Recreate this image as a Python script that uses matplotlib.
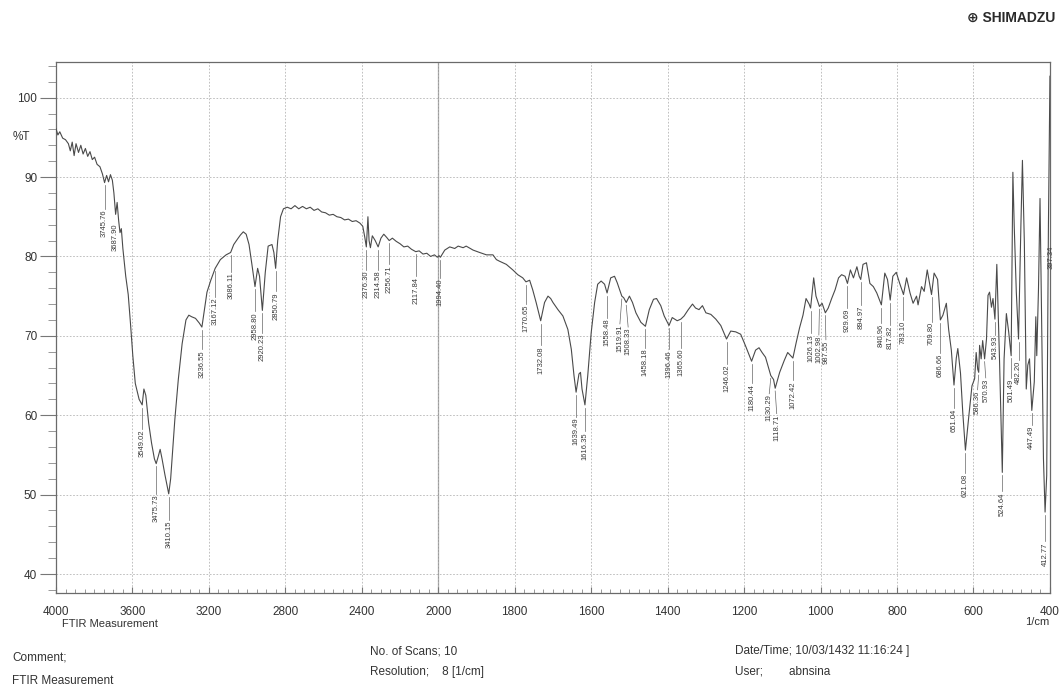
import numpy as np
import matplotlib.pyplot as plt

plt.rcParams['font.family'] = ['Liberation Sans', 'DejaVu Sans']

# FTIR spectrum, wavenumber (1/cm) vs %T
wavenumber = [
    4000, 3990, 3980, 3965, 3950, 3935, 3925, 3915, 3905, 3895, 3882, 3870, 3858,
    3846, 3834, 3822, 3810, 3798, 3785, 3770, 3757, 3745.76, 3735, 3725, 3715, 3705,
    3697, 3687.9, 3680, 3672, 3665, 3658, 3650, 3635, 3622, 3610, 3598, 3585, 3565,
    3549.02, 3540, 3530, 3515, 3500, 3485, 3475.73, 3465, 3455, 3445, 3430, 3410.15,
    3400, 3390, 3378, 3360, 3340, 3320, 3305, 3290, 3270, 3250, 3236.55, 3225, 3210,
    3190, 3167.12, 3140, 3110, 3086.11, 3070, 3050, 3035, 3020, 3005, 2990, 2975,
    2958.8, 2945, 2935, 2920.23, 2905, 2890, 2870, 2860, 2850.79, 2840, 2825, 2810,
    2790, 2770, 2750, 2730, 2710, 2690, 2670, 2650, 2630, 2610, 2590, 2570, 2550,
    2530, 2510, 2490, 2470, 2450, 2430, 2410, 2395, 2385, 2376.3, 2368, 2362, 2355,
    2345, 2330, 2314.58, 2300, 2285, 2270, 2256.71, 2240, 2220, 2200, 2180, 2160,
    2140, 2117.84, 2100, 2080, 2060, 2040, 2020, 2005, 1998, 1994.4, 1983, 1970,
    1957, 1948, 1935, 1927, 1909, 1892, 1874, 1857, 1848, 1840, 1822, 1805, 1792,
    1779, 1770.65, 1761, 1753, 1744, 1732.08, 1722, 1713, 1706, 1700, 1687, 1674,
    1661, 1652, 1645, 1639.49, 1632, 1628, 1624, 1616.35, 1609, 1600, 1591, 1583,
    1574, 1565, 1558.48, 1549, 1539, 1532, 1519.91, 1515, 1508.33, 1500, 1492, 1483,
    1470, 1458.18, 1448, 1437, 1429, 1418, 1409, 1396.46, 1388, 1375, 1365.6, 1357,
    1346, 1335, 1327, 1318, 1309, 1300, 1287, 1274, 1261, 1253, 1246.02, 1235, 1222,
    1209, 1196, 1180.44, 1170, 1161, 1153, 1144, 1130.29, 1123, 1118.71, 1107, 1095,
    1086, 1072.42, 1064, 1055, 1046, 1038, 1030, 1026.13, 1018, 1012, 1002.98, 996,
    987.55, 980, 971, 962, 953, 945, 936, 929.69, 922, 914, 905, 899, 894.97, 889,
    880, 871, 862, 853, 840.96, 832, 825, 817.82, 811, 802, 793, 783.1, 775, 766,
    758, 749, 745, 736, 729, 721, 709.8, 703, 694, 686.66, 680, 671, 665, 658,
    651.04, 645, 641, 634, 628, 621.08, 612, 604, 597, 593, 589, 586.36, 584, 580,
    576, 570.93, 566, 562, 558, 553, 549, 543.93, 539, 532, 524.64, 520, 514, 508,
    501.49, 497, 493.5, 488, 482.2, 476, 472, 467, 462, 458, 453.5, 447.49, 441,
    437, 434.5, 430, 426, 421.5, 417, 412.77, 408.5, 404, 400,
]
transmittance = [
    96.1, 95.3, 95.7, 94.9, 94.7, 94.2, 93.3, 94.4, 92.7, 94.2, 93.1, 94.0, 92.9,
    93.6, 92.6, 93.2, 92.2, 92.5, 91.6, 91.3, 90.4, 89.3, 90.2, 89.4, 90.3, 89.6,
    88.0, 85.3, 86.8, 84.5, 83.0, 83.5, 81.0, 77.5, 75.2, 71.5, 67.5, 64.0, 62.0,
    61.3, 63.3, 62.5, 59.0, 56.5, 54.5, 53.9, 54.8, 55.7, 54.5, 52.5, 50.1,
    52.0, 55.5, 59.5, 64.5, 69.0, 72.0, 72.6, 72.4, 72.2, 71.6, 71.1, 73.0, 75.5,
    77.0, 78.5, 79.6, 80.2, 80.5, 81.5, 82.2, 82.7, 83.1, 82.8, 81.5, 79.0,
    76.2, 78.5, 77.5, 73.2, 78.0, 81.3, 81.5, 80.5, 78.5, 82.0, 85.0, 86.0,
    86.2, 86.0, 86.4, 86.0, 86.3, 86.0, 86.2, 85.8, 86.0, 85.6, 85.5, 85.2, 85.3,
    85.0, 84.9, 84.6, 84.7, 84.4, 84.5, 84.2, 83.8, 82.5, 81.2, 85.0, 82.0, 81.1,
    82.6, 82.0, 81.2, 82.3, 82.8, 82.4, 82.0, 82.3, 81.9, 81.6, 81.2, 81.3,
    80.9, 80.6, 80.7, 80.3, 80.4, 80.0, 80.2, 79.9, 80.1, 79.9, 80.8, 81.2,
    81.0, 81.3, 81.1, 81.3, 80.8, 80.5, 80.2, 80.2, 79.6, 79.4, 79.0, 78.3, 77.7,
    77.3, 76.8, 77.0, 75.8, 74.2, 71.9, 74.2, 75.0, 74.7, 74.2, 73.3, 72.5,
    70.8, 68.3, 65.0, 62.9, 65.2, 65.4, 63.3, 61.3, 65.0, 70.4, 74.2, 76.5,
    76.9, 76.5, 75.4, 77.3, 77.5, 76.7, 75.0, 74.8, 74.2, 75.0, 74.2, 72.9,
    71.7, 71.2, 73.3, 74.6, 74.7, 73.8, 72.5, 71.3, 72.3, 71.9, 72.1, 72.5,
    73.3, 74.0, 73.5, 73.3, 73.8, 72.9, 72.7, 72.1, 71.3, 70.4, 69.6, 70.6, 70.5,
    70.2, 68.7, 66.8, 68.2, 68.5, 67.9, 67.3, 65.0, 64.5, 63.4, 65.4, 66.9,
    67.9, 67.2, 69.1, 71.0, 72.6, 74.7, 74.0, 73.5, 77.3, 75.0, 73.7, 74.1,
    72.9, 73.5, 74.7, 75.8, 77.3, 77.7, 77.5, 76.6, 78.3, 77.3, 78.7, 77.5, 77.1, 79.0,
    79.2, 76.6, 76.2, 75.4, 73.9, 77.9, 77.1, 74.5, 77.5, 78.0, 76.6, 75.2, 77.3, 75.4,
    74.1, 75.0, 73.9, 76.2, 75.6, 78.3, 75.2, 77.9, 77.1, 72.0, 72.6, 74.1, 70.8, 68.2,
    63.8, 67.2, 68.4, 65.3, 60.3, 55.6, 60.0, 63.7, 64.6, 67.9, 65.8, 65.4, 68.8, 67.1,
    69.4, 67.1, 69.6, 75.1, 75.5, 73.6, 74.7, 72.1, 79.0, 67.1, 52.8, 67.1, 72.8, 70.5,
    67.5, 90.6, 83.9, 75.5, 69.6, 83.9, 92.1, 81.8, 63.3, 66.3, 67.1, 60.6, 64.2,
    72.4, 67.5, 75.9, 87.3, 71.3, 54.5, 47.8, 52.4, 83.9, 102.7,
]

# labelled band positions, how far each label sits below the trace,
# and a sideways nudge (1/cm) for labels that would touch a neighbour
peak_wn = [
    3745.76, 3687.90, 3549.02, 3475.73, 3410.15, 3236.55, 3167.12, 3086.11,
    2958.80, 2920.23, 2850.79, 2376.30, 2314.58, 2256.71, 2117.84, 1994.40,
    1770.65, 1732.08, 1639.49, 1616.35, 1558.48, 1519.91, 1508.33, 1458.18,
    1396.46, 1365.60, 1246.02, 1180.44, 1130.29, 1118.71, 1072.42, 1026.13,
    1002.98, 987.55, 929.69, 894.97, 840.96, 817.82, 783.10, 709.80, 686.66,
    651.04, 621.08, 586.36, 570.93, 543.93, 524.64, 501.49, 482.20, 447.49,
    412.77, 397.34,
]
label_gap = [
    3.1, 0.8, 2.8, 3.6, 3.1, 2.6, 3.4, 2.2,
    2.9, 2.6, 2.7, 2.7, 2.7, 2.8, 2.9, 2.4,
    2.6, 2.9, 2.9, 3.1, 2.9, 3.3, 2.9, 2.5,
    2.8, 3.4, 2.9, 2.6, 2.1, 3.0, 2.6, 3.0,
    3.4, 3.2, 2.9, 3.0, 2.1, 2.9, 3.0, 3.2, 4.0,
    2.7, 2.7, 2.0, 2.2, 1.8, 2.2, 2.6, 2.4, 1.6,
    3.5, 21.0,
]
label_shift = [
    0, 0, 0, 0, 0, 0, 0, 0,
    0, 0, 0, 0, 0, 0, 0, 0,
    0, 0, 0, 0, 0, 5, -5, 0,
    0, 0, 0, 0, 4, -4, 0, 0,
    1.5, -1.5, 0, 0, 0, 0, 0, 0, 0,
    0, 0, 3, -3, 0, 0, 0, 0, 0,
    0, 0,
]

x_major = [4000, 3600, 3200, 2800, 2400, 2000, 1800, 1600, 1400, 1200, 1000, 800, 600, 400]
y_major = [40, 50, 60, 70, 80, 90, 100]

wn = np.array(wavenumber)
tr = np.array(transmittance)


# the region below 2000 1/cm is drawn at twice the scale
def fwd(x):
    x = np.asarray(x, dtype=float)
    return np.where(x > 2000, 2000 + (x - 2000) / 2, x)


def inv(y):
    y = np.asarray(y, dtype=float)
    return np.where(y > 2000, 2000 + (y - 2000) * 2, y)


fig = plt.figure(figsize=(10.64, 6.88), dpi=100)
ax = fig.add_axes([0.0526, 0.138, 0.9342, 0.772])
ax.set_xscale('function', functions=(fwd, inv))
ax.set_xlim(4000, 400)
ax.set_ylim(37.6, 104.5)

ax.plot(wn, tr, color='#4a4a4a', lw=0.8, zorder=3)

# peak labels with short leader lines
peak_t = np.interp(peak_wn, wn[::-1], tr[::-1])
for w, t, g, s in zip(peak_wn, peak_t, label_gap, label_shift):
    top = t - g
    if g > 0.9:
        ax.plot([w, w + s], [t - 0.35, top - 0.2], color='#666666', lw=0.5, zorder=2)
    ax.text(w + s, top - 0.3, f'{w:.2f}', rotation=90, ha='center', va='top',
            fontsize=5.5, color='#3a3a3a', clip_on=False)

# axes, ticks, grid
ax.set_xticks(x_major, labels=[str(v) for v in x_major])
ax.set_xticks(list(range(3950, 2000, -50)) + list(range(1975, 400, -25)), minor=True)
ax.set_yticks(y_major)
ax.set_yticks(list(range(38, 105, 2)), minor=True)
ax.tick_params(axis='x', which='major', direction='in', length=4, pad=9,
               labelsize=8.5, color='#777777', labelcolor='#333333')
ax.tick_params(axis='x', which='minor', direction='in', length=3, color='#888888')
ax.tick_params(axis='y', which='major', direction='out', length=11.5, pad=2,
               labelsize=8.5, color='#777777', labelcolor='#333333')
ax.tick_params(axis='y', which='minor', direction='out', length=5.5, color='#888888')

ax.grid(True, which='major', linestyle=(0, (2, 2)), color='#b5b5b5', lw=0.6)
ax.axvline(2000, color='#9a9a9a', lw=0.9, zorder=1)
for sp in ax.spines.values():
    sp.set_color('#6a6a6a')
    sp.set_linewidth(0.9)

ax.text(-0.044, 95.1, '%T', transform=ax.get_yaxis_transform(), ha='left',
        va='center', fontsize=8.5, color='#333333')

# header and footer text
fig.text(62 / 1064, 1 - 624 / 688, 'FTIR Measurement', fontsize=8, va='center', color='#333333')
fig.text(1049 / 1064, 1 - 622 / 688, '1/cm', fontsize=8, ha='right', va='center', color='#333333')
fig.text(1055 / 1064, 1 - 18 / 688, '\u2295 SHIMADZU', fontsize=10, fontweight='bold',
         ha='right', va='center', color='#2a2a2a')

fig.text(12 / 1064, 1 - 658 / 688, 'Comment;', fontsize=8.5, va='center', color='#333333')
fig.text(12 / 1064, 1 - 681 / 688, 'FTIR Measurement', fontsize=8.5, va='center', color='#333333')
fig.text(370 / 1064, 1 - 651 / 688, 'No. of Scans; 10', fontsize=8.5, va='center', color='#333333')
fig.text(370 / 1064, 1 - 672 / 688, 'Resolution;    8 [1/cm]', fontsize=8.5, va='center', color='#333333')
fig.text(735 / 1064, 1 - 651 / 688, 'Date/Time; 10/03/1432 11:16:24 ]', fontsize=8.5, va='center', color='#333333')
fig.text(735 / 1064, 1 - 672 / 688, 'User;        abnsina', fontsize=8.5, va='center', color='#333333')

fig.savefig('out.png', dpi=100)
